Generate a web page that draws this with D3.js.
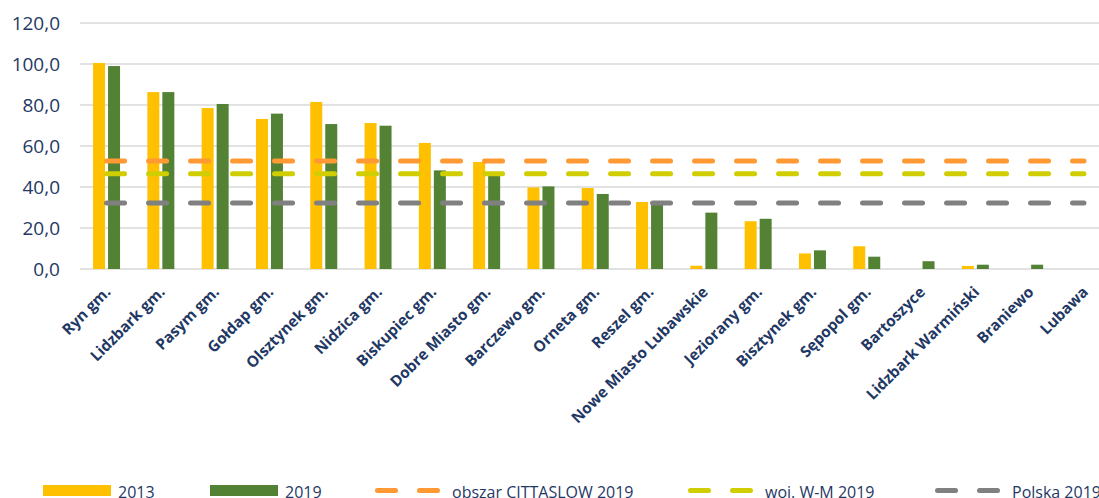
<!DOCTYPE html>
<html>
<head>
<meta charset="utf-8">
<script src="https://cdn.jsdelivr.net/npm/d3@7"></script>
<style>
  body { margin: 0; background: #fff; }
  svg { display: block; font-family: "Open Sans", sans-serif; }
</style>
</head>
<body>
<div id="chart"></div>
<script>
// gminy in the order shown on the x axis
const categories = ["Ryn gm.", "Lidzbark gm.", "Pasym gm.", "Gołdap gm.", "Olsztynek gm.",
    "Nidzica gm.", "Biskupiec gm.", "Dobre Miasto gm.", "Barczewo gm.", "Orneta gm.",
    "Reszel gm.", "Nowe Miasto Lubawskie", "Jeziorany gm.", "Bisztynek gm.", "Sępopol gm.",
    "Bartoszyce", "Lidzbark Warmiński", "Braniewo", "Lubawa"];

const values2013 = [100.5, 86.3, 78.5, 73.2, 81.5, 71.2, 61.5, 52.2, 39.8, 39.5,
    32.7, 1.6, 23.3, 7.6, 11.1, 0, 1.5, 0, 0];
const values2019 = [99.0, 86.3, 80.5, 75.8, 70.7, 69.9, 48.1, 45.5, 40.3, 36.6,
    31.5, 27.5, 24.5, 9.1, 6.0, 3.8, 2.1, 2.1, 0];

const series = ["2013", "2019"];
const seriesColors = ["#FFC000", "#548235"];

// reference levels (dashed lines)
const refNames = ["obszar CITTASLOW 2019", "woj. W-M 2019", "Polska 2019"];
const refValues = [52.7, 46.5, 32.2];
const refColors = ["#FF9933", "#D0CE00", "#808080"];

const yTicks = [0, 20, 40, 60, 80, 100, 120];

const width = 1099, height = 498;
const navy = "#1F3864";

const svg = d3.select("#chart").append("svg")
    .attr("width", width)
    .attr("height", height);

const x = d3.scaleBand()
    .domain(categories)
    .range([79.4, 1111.1]);

const y = d3.scaleLinear()
    .domain([0, 120])
    .range([269, 23]);

const fmt = d => d3.format(".1f")(d).replace(".", ",");

// gridlines
svg.append("g")
    .selectAll("line")
    .data(yTicks)
    .join("line")
    .attr("x1", 80)
    .attr("x2", width)
    .attr("y1", d => y(d))
    .attr("y2", d => y(d))
    .attr("stroke", "#D9D9D9")
    .attr("stroke-width", 1.5);

// y axis labels
const yAxis = svg.append("g")
    .attr("transform", "translate(70,0)")
    .call(d3.axisLeft(y).tickValues(yTicks).tickFormat(fmt).tickSize(0).tickPadding(10));
yAxis.select(".domain").remove();
yAxis.selectAll("text")
    .attr("fill", navy)
    .attr("font-family", "'Open Sans', sans-serif")
    .attr("font-size", 19);

// bars
const data = categories.map((c, i) => ({ name: c, values: [values2013[i], values2019[i]] }));

const groups = svg.append("g")
    .selectAll("g")
    .data(data)
    .join("g");

groups.each(function(d) {
    const cx = x(d.name) + x.bandwidth() / 2;
    const sub = d3.scaleBand().domain(series).range([cx - 13.5, cx + 13.5]).paddingInner(0.2);
    d3.select(this).selectAll("rect")
        .data(series.map((s, j) => ({ s, v: d.values[j], color: seriesColors[j] })))
        .join("rect")
        .attr("x", e => sub(e.s))
        .attr("y", e => y(e.v))
        .attr("width", sub.bandwidth())
        .attr("height", e => y(0) - y(e.v))
        .attr("fill", e => e.color);
});

// dashed reference lines
const line = d3.line()
    .x(d => x(d.name) + x.bandwidth() / 2)
    .y(d => y(d.v));

refValues.forEach((v, i) => {
    svg.append("path")
        .datum(categories.map(c => ({ name: c, v })))
        .attr("d", line)
        .attr("fill", "none")
        .attr("stroke", refColors[i])
        .attr("stroke-width", 5)
        .attr("stroke-linecap", "round")
        .attr("stroke-dasharray", "18,24");
});

// x labels, rotated
svg.append("g")
    .selectAll("text")
    .data(categories)
    .join("text")
    .attr("transform", d => `translate(${x(d) + x.bandwidth() / 2 + 5},${293}) rotate(-45)`)
    .attr("text-anchor", "end")
    .attr("fill", navy)
    .attr("font-weight", "bold")
    .attr("font-size", 15.3)
    .text(d => d);

// legend
const legend = svg.append("g");
const barLegendX = [43, 210];
series.forEach((s, i) => {
    legend.append("rect")
        .attr("x", barLegendX[i])
        .attr("y", 485)
        .attr("width", 68)
        .attr("height", 11)
        .attr("fill", seriesColors[i]);
    legend.append("text")
        .attr("x", barLegendX[i] + 75)
        .attr("y", 498)
        .attr("fill", navy)
        .attr("font-size", 16)
        .text(s);
});

const lineLegendX = [375, 688, 935];
refNames.forEach((n, i) => {
    legend.append("line")
        .attr("x1", lineLegendX[i] + 2.5)
        .attr("x2", lineLegendX[i] + 63)
        .attr("y1", 490.5)
        .attr("y2", 490.5)
        .attr("stroke", refColors[i])
        .attr("stroke-width", 5)
        .attr("stroke-linecap", "round")
        .attr("stroke-dasharray", "18,24");
    legend.append("text")
        .attr("x", lineLegendX[i] + 77)
        .attr("y", 498)
        .attr("fill", navy)
        .attr("font-size", 16)
        .text(n);
});
</script>
</body>
</html>
